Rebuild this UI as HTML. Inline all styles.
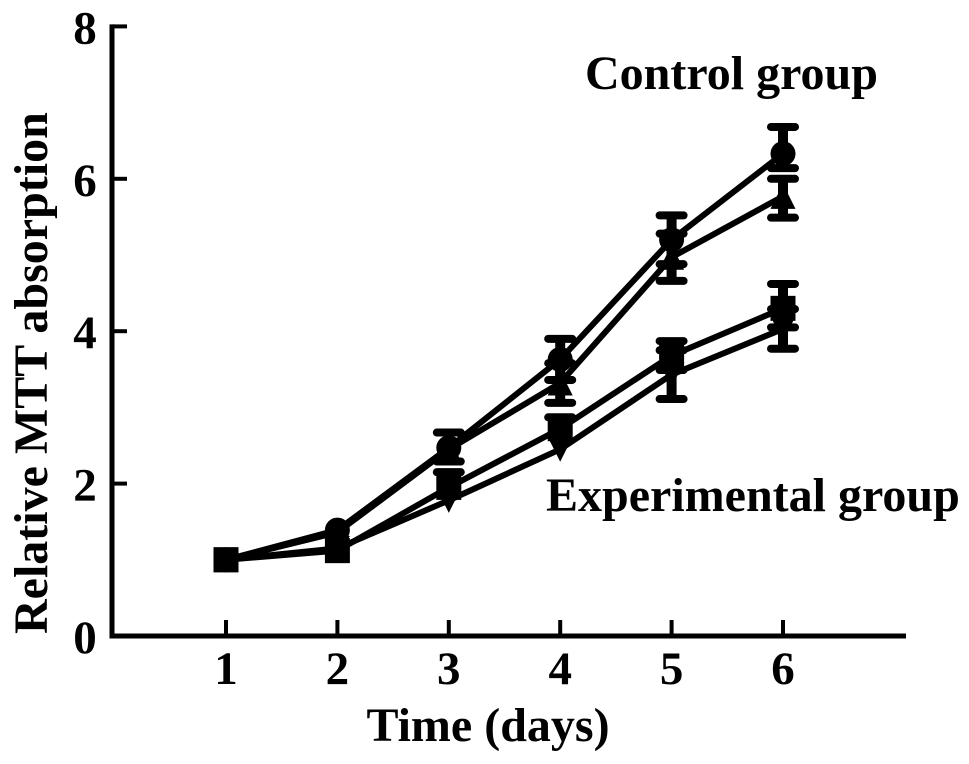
<!DOCTYPE html>
<html>
<head>
<meta charset="utf-8">
<style>
html,body{margin:0;padding:0;background:#fff;}
svg{display:block;}
text{font-family:"Liberation Serif",serif;font-weight:bold;fill:#000;}
</style>
</head>
<body>
<svg id="chart" width="969" height="764" viewBox="0 0 969 764" xmlns="http://www.w3.org/2000/svg">
<rect width="969" height="764" fill="#fff"/>
<text x="0" y="0" transform="translate(47,634) rotate(-90)" font-size="48">Relative MTT absorption</text>
<text x="488" y="741" text-anchor="middle" font-size="48">Time (days)</text>
<text x="585" y="89" font-size="48">Control group</text>
<text x="546" y="511" font-size="48">Experimental group</text>
</svg>
<script>
const days = [1, 2, 3, 4, 5, 6];
const yTicks = [0, 2, 4, 6, 8];
const circleValues = [1.0, 1.39, 2.47, 3.63, 5.2, 6.33];
const circleUp = [0, 0, 0.2, 0.27, 0.32, 0.35];
const circleDown = [0, 0, 0.18, 0.27, 0.32, 0.19];
const triangleValues = [1.0, 1.36, 2.45, 3.32, 4.97, 5.77];
const triangleUp = [0, 0, 0, 0.26, 0.31, 0.23];
const triangleDown = [0, 0, 0, 0.26, 0.31, 0.28];
const squareValues = [1.0, 1.12, 1.95, 2.72, 3.68, 4.3];
const squareUp = [0, 0, 0.2, 0.15, 0.19, 0.32];
const squareDown = [0, 0, 0, 0, 0.19, 0.25];
const invTriangleValues = [1.0, 1.15, 1.78, 2.45, 3.43, 4.03];
const invTriangleUp = [0, 0, 0, 0, 0.32, 0.26];
const invTriangleDown = [0, 0, 0, 0, 0.32, 0.26];

const svg = document.getElementById('chart');
const NS = 'http://www.w3.org/2000/svg';
const xScale = d => 226 + (d - 1) * 111.4;
const yScale = v => 636 - v * 76.2;

function make(tag, attrs) {
  const el = document.createElementNS(NS, tag);
  for (const k in attrs) el.setAttribute(k, attrs[k]);
  svg.appendChild(el);
  return el;
}

const yAxis = make('line', {x1: 112, y1: yScale(8) - 2, x2: 112, y2: 638.5, stroke: '#000', 'stroke-width': 5});


const xAxis = make('line', {x1: 109.5, y1: 636, x2: 906, y2: 636, stroke: '#000', 'stroke-width': 5});



yTicks.forEach(t => {
  const y = yScale(t);
  if (t > 0) {
    const tick = make('line', {x1: 112, y1: y, x2: 127, y2: y, stroke: '#000', 'stroke-width': 4});
    
    
  }
  const label = make('text', {x: 85, y: y + 17, 'text-anchor': 'middle', 'font-size': 47});
  label.textContent = t;
  
  
});

days.forEach(d => {
  const x = xScale(d);
  const tick = make('line', {x1: x, y1: 620, x2: x, y2: 636, stroke: '#000', 'stroke-width': 4});
  
  
  const label = make('text', {x: x, y: 684, 'text-anchor': 'middle', 'font-size': 47});
  label.textContent = d;
  
  
});

function marker(kind, x, y) {
  if (kind === 'circle') return make('circle', {cx: x, cy: y, r: 12.5, fill: '#000'});
  if (kind === 'square') return make('rect', {x: x - 12.5, y: y - 12.5, width: 25, height: 25, fill: '#000'});
  if (kind === 'triangle') return make('polygon', {points: `${x},${y - 12.5} ${x + 12.5},${y + 12.5} ${x - 12.5},${y + 12.5}`, fill: '#000'});
  return make('polygon', {points: `${x},${y + 12.5} ${x + 12.5},${y - 12.5} ${x - 12.5},${y - 12.5}`, fill: '#000'});
}

function drawSeries(name, kind, values, up, down) {
  const pts = days.map((d, i) => `${xScale(d)},${yScale(values[i])}`).join(' ');
  const line = make('polyline', {points: pts, fill: 'none', stroke: '#000', 'stroke-width': 6, 'stroke-linejoin': 'round'});
  
  
  days.forEach((d, i) => {
    const x = xScale(d);
    const hi = yScale(values[i] + up[i]);
    const lo = yScale(values[i] - down[i]);
    if (up[i] > 0 || down[i] > 0) {
      const stem = make('line', {x1: x, y1: hi, x2: x, y2: lo, stroke: '#000', 'stroke-width': 10});
      
      
    }
    if (up[i] > 0) {
      const capTop = make('line', {x1: x - 12, y1: hi, x2: x + 12, y2: hi, stroke: '#000', 'stroke-width': 8, 'stroke-linecap': 'round'});
      
      
    }
    if (down[i] > 0) {
      const capBottom = make('line', {x1: x - 12, y1: lo, x2: x + 12, y2: lo, stroke: '#000', 'stroke-width': 8, 'stroke-linecap': 'round'});
      
      
    }
    const m = marker(kind, x, yScale(values[i]));
    
    
  });
}

drawSeries('control-circle', 'circle', circleValues, circleUp, circleDown);
drawSeries('control-triangle', 'triangle', triangleValues, triangleUp, triangleDown);
drawSeries('experimental-square', 'square', squareValues, squareUp, squareDown);
drawSeries('experimental-inverted-triangle', 'invtriangle', invTriangleValues, invTriangleUp, invTriangleDown);
</script>
</body>
</html>
